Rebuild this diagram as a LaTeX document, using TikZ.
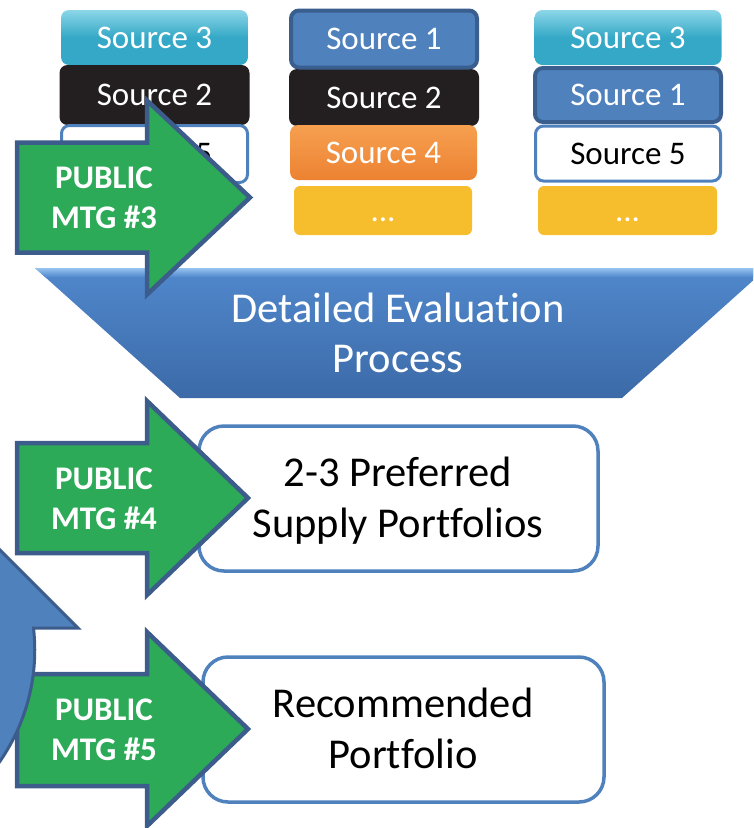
\documentclass[tikz,border=0pt]{standalone}
\usepackage{fontspec}
\setmainfont{Carlito}[Ligatures=NoCommon]
\definecolor{tealc}{RGB}{52,168,198}
\definecolor{tealhi}{RGB}{140,214,232}
\definecolor{blackc}{RGB}{35,31,32}
\definecolor{bluec}{RGB}{79,129,189}
\definecolor{blueedge}{RGB}{58,94,142}
\definecolor{orangec}{RGB}{236,130,50}
\definecolor{orangehi}{RGB}{246,160,80}
\definecolor{yellowc}{RGB}{246,190,44}
\definecolor{greenc}{RGB}{44,170,87}
\definecolor{arrowedge}{RGB}{60,92,140}
\definecolor{funtop}{RGB}{80,136,204}
\definecolor{funbot}{RGB}{60,106,168}
\definecolor{funhi}{RGB}{150,195,240}
\begin{document}
\begin{tikzpicture}[x=1pt,y=-1pt,
  src/.style={rounded corners=8pt, inner sep=0pt, text=white,
    font=\fontsize{33}{40}\selectfont, text height=21.5pt, text depth=0pt},
  tealbox/.style={src, top color=tealhi, bottom color=tealc, middle color=tealc},
  blackbox/.style={src, fill=blackc},
  bluebox/.style={src, fill=bluec, draw=blueedge, line width=4pt},
  whitebox/.style={src, fill=white, draw=bluec, line width=3pt, text=black},
  orangebox/.style={src, top color=orangehi, bottom color=orangec},
  yellowbox/.style={src, fill=yellowc, rounded corners=6pt},
  portbox/.style={draw=bluec, line width=3.5pt, fill=white, rounded corners=25pt,
    inner sep=0pt},
  porttext/.style={inner sep=0pt, font=\fontsize{42.5}{51}\selectfont, align=center},
  greenarrow/.style={fill=greenc, draw=arrowedge, line width=4.5pt, line join=miter},
  mtg/.style={text=white, font=\fontsize{33}{39.5}\selectfont\bfseries, align=center, inner sep=0pt},
  bigtext/.style={text=white, font=\fontsize{42.5}{50.5}\selectfont, align=center, inner sep=0pt}
]
\useasboundingbox (0,0) rectangle (753,828);
\clip (0,0) rectangle (753,828);

% column 1
\node[tealbox, minimum width=187pt, minimum height=55pt] (c1s3) at (154.5,37.5) {Source 3};
\node[blackbox, minimum width=190pt, minimum height=60pt] (c1s2) at (154.5,95) {Source 2};
\node[whitebox, minimum width=186pt, minimum height=57pt] (c1s5) at (154.5,154) {Source 5};

% column 2
\node[blackbox, minimum width=190pt, minimum height=57pt] (c2s2) at (384,97.5) {Source 2};
\node[bluebox, minimum width=186pt, minimum height=57pt] (c2s1) at (384,39) {Source 1};
\node[orangebox, minimum width=187pt, minimum height=55pt] (c2s4) at (383.5,152.5) {Source 4};
\node[yellowbox, minimum width=178pt, minimum height=49pt] (c2d) at (383,210.5) {...};

% column 3
\node[tealbox, minimum width=187pt, minimum height=55pt] (c3s3) at (628,37.5) {Source 3};
\node[bluebox, minimum width=186pt, minimum height=54pt] (c3s1) at (628,95) {Source 1};
\node[whitebox, minimum width=185pt, minimum height=55pt] (c3s5) at (628,153.5) {Source 5};
\node[yellowbox, minimum width=179pt, minimum height=49pt] (c3d) at (627.5,210.5) {...};

% funnel
\shade[top color=funtop, bottom color=funbot] (35,268) -- (767,268) -- (622,398) -- (180,398) -- cycle;
\shade[top color=funhi, bottom color=funtop] (35,268) -- (767,268) -- (758,277) -- (45,277) -- cycle;
\node[bigtext] (funnel) at (398,333) {Detailed Evaluation\\Process};

% result boxes
\node[portbox, minimum width=399pt, minimum height=145pt] (pref) at (398.5,498.5) {};
\node[porttext] (preft) at (398,501) {2-3 Preferred\\Supply Portfolios};
\node[portbox, minimum width=401pt, minimum height=145pt] (rec) at (403.5,729.5) {};
\node[porttext] (rect) at (403,728) {Recommended\\Portfolio};

% green arrows
\draw[greenarrow] (17,142.5) -- (147,142.5) -- (147,100.5) -- (250,197.5) -- (147,294.5) -- (147,252.5) -- (17,252.5) -- cycle;
\node[mtg] (m3) at (104,198) {PUBLIC\\MTG \#3};

\draw[greenarrow] (17,443) -- (147,443) -- (147,401) -- (248,498) -- (147,595) -- (147,553) -- (17,553) -- cycle;
\node[mtg] (m4) at (104,499) {PUBLIC\\MTG \#4};

\draw[greenarrow] (17,674) -- (147,674) -- (147,632) -- (248,729) -- (147,826) -- (147,786) -- (17,786) -- cycle;
\node[mtg] (m5) at (104,730) {PUBLIC\\MTG \#5};

% blue curved arrow (partly visible)
\draw[fill=bluec, draw=arrowedge, line width=3pt, line join=miter]
  (-80,470) -- (78,628) -- (33.5,628)
  arc[start angle=-6.5, end angle=50, radius=195]
  -- (-250,800) -- (-250,470) -- cycle;
\end{tikzpicture}
\end{document}
